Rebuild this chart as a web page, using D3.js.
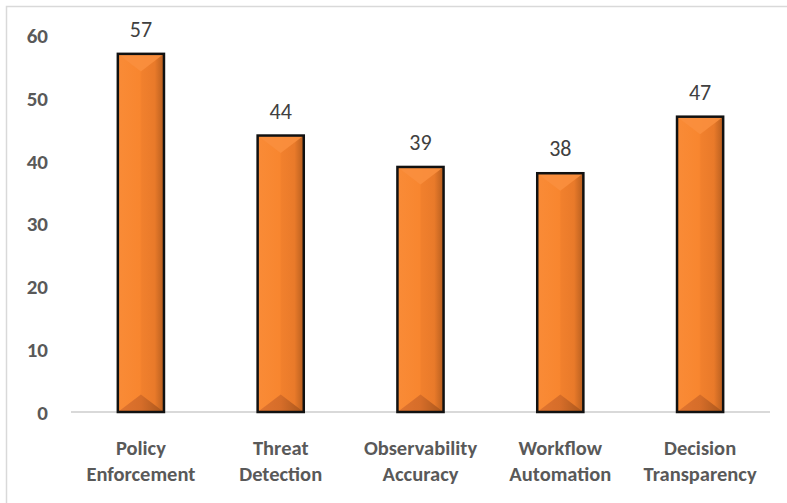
<!DOCTYPE html>
<html>
<head>
<meta charset="utf-8">
<script src="https://cdn.jsdelivr.net/npm/d3@7"></script>
<style>
  html, body { margin: 0; padding: 0; background: #fff; }
  svg { display: block; }
  text { font-family: Carlito, Calibri, "Liberation Sans Narrow", "DejaVu Sans Condensed", "Liberation Sans", sans-serif; }
</style>
</head>
<body>
<svg id="chart" width="787" height="503"></svg>
<script>
const categories = [
  ["Policy", "Enforcement"],
  ["Threat", "Detection"],
  ["Observability", "Accuracy"],
  ["Workflow", "Automation"],
  ["Decision", "Transparency"]
];
const values = [57, 44, 39, 38, 47];
const yTicks = [0, 10, 20, 30, 40, 50, 60];

const W = 787, H = 503;
const svg = d3.select("#chart");
const keys = categories.map(c => c.join(" "));

const x = d3.scaleBand().domain(keys).range([71, 770]).paddingInner(0.67).paddingOuter(0.335);
const y = d3.scaleLinear().domain([0, 60]).range([412, 35]);

const defs = svg.append("defs");
const g1 = defs.append("linearGradient").attr("id", "barGrad").attr("x1", "0").attr("x2", "1").attr("y1", "0").attr("y2", "0");
[["0%", "#F98B37"], ["48%", "#F8862F"], ["52%", "#F1802D"], ["80%", "#E97A2A"], ["100%", "#B65E1F"]]
  .forEach(([o, c]) => g1.append("stop").attr("offset", o).attr("stop-color", c));
const g2 = defs.append("linearGradient").attr("id", "botGrad").attr("x1", "0").attr("x2", "1").attr("y1", "0").attr("y2", "0");
[["0%", "#E07430"], ["50%", "#D66D29"], ["100%", "#A8561C"]]
  .forEach(([o, c]) => g2.append("stop").attr("offset", o).attr("stop-color", c));

// chart frame
svg.append("rect").attr("x", 6.5).attr("y", 6.5).attr("width", W + 10).attr("height", H + 10)
  .attr("fill", "none").attr("stroke", "#d9d9d9").attr("stroke-width", 1.5);

// baseline
svg.append("line").attr("x1", 71).attr("x2", 770).attr("y1", y(0)).attr("y2", y(0))
  .attr("stroke", "#d9d9d9").attr("stroke-width", 2);

// y axis labels
const yAxis = d3.axisLeft(y).tickValues(yTicks).tickSize(0).tickPadding(0);
const ya = svg.append("g").attr("transform", "translate(48,0)").call(yAxis);
ya.select(".domain").remove();
ya.selectAll("text").attr("font-size", 21).attr("font-weight", "bold").attr("fill", "#595959")
  .attr("font-family", null).attr("dy", "0.35em");

const bars = svg.append("g").selectAll("g").data(values).join("g");
bars.each(function(v, i) {
  const gg = d3.select(this);
  const x0 = x(keys[i]), w = x.bandwidth(), x1 = x0 + w, xc = x0 + w / 2;
  const yt = y(v), yb = y(0);
  const d = Math.min(w * 0.38, (yb - yt) / 2);
  gg.append("rect").attr("x", x0).attr("y", yt).attr("width", w).attr("height", yb - yt).attr("fill", "url(#barGrad)");
  gg.append("path").attr("d", `M${x0},${yt}L${x1},${yt}L${xc},${yt + d}Z`).attr("fill", "#FA8F3E").attr("opacity", 0.9);
  gg.append("path").attr("d", `M${x0},${yb}L${x1},${yb}L${xc},${yb - d}Z`).attr("fill", "url(#botGrad)");
  gg.append("rect").attr("x", x0).attr("y", yt).attr("width", w).attr("height", yb - yt)
    .attr("fill", "none").attr("stroke", "#111").attr("stroke-width", 2.5);
  gg.append("text").attr("x", xc).attr("y", yt - 17).attr("text-anchor", "middle")
    .attr("font-size", 22).attr("fill", "#404040").text(v);
});

// x axis labels
const xAxis = d3.axisBottom(x).tickSize(0).tickFormat(() => "");
const xa = svg.append("g").attr("transform", `translate(0,${y(0)})`).call(xAxis);
xa.select(".domain").remove();
xa.selectAll(".tick").each(function(k, i) {
  const t = d3.select(this).append("text").attr("text-anchor", "middle")
    .attr("font-size", 20.5).attr("font-weight", "bold").attr("fill", "#595959");
  categories[i].forEach((line, j) => {
    t.append("tspan").attr("x", 0).attr("y", 36 + j * 26).attr("dy", "0.35em").text(line);
  });
});
</script>
</body>
</html>
